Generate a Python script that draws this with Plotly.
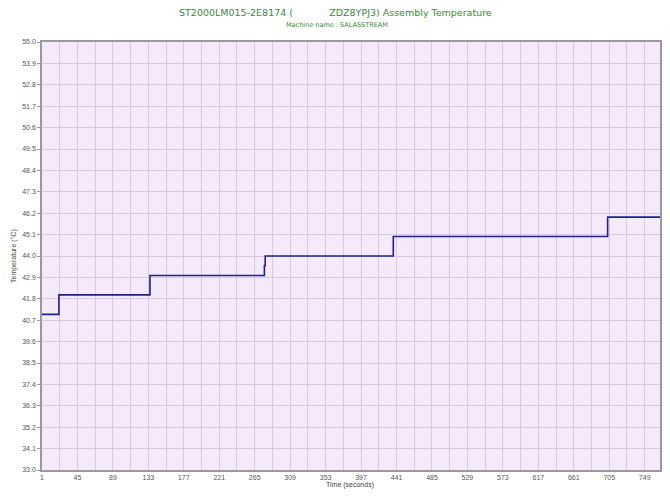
import plotly.graph_objects as go

# Step data: time (seconds) and assembly temperature (°C)
time_s = [1, 22, 135, 277, 278, 437, 703, 768]
temp_c = [41.0, 42.0, 43.0, 43.5, 44.0, 45.0, 46.0, 46.0]

y_ticks = [round(33.0 + 1.1 * i, 1) for i in range(21)]
x_ticks = [1 + 44 * i for i in range(18)]

title_main = "ST2000LM015-2E8174 (            ZDZ8YPJ3) Assembly Temperature"
title_sub = "Machine name : SALASSTREAM"

OFF = 8  # default page body margin
W, H = 670 - OFF, 502 - OFF
L, R, T, B = 42 - OFF, 10, 42 - OFF, 32

fig = go.Figure()
fig.add_trace(go.Scatter(
    x=time_s, y=temp_c, mode="lines", line_shape="hv",
    line=dict(color="#1f1f8f", width=1.6), showlegend=False,
))

title_font = "DejaVu Sans"
tick_font = "Liberation Sans"
fig.update_layout(
    width=W, height=H,
    margin=dict(l=L, r=R, t=T, b=B, autoexpand=False),
    paper_bgcolor="white", plot_bgcolor="#f5eafc",
    font=dict(family=tick_font, size=7, color="#555555"),
)

plot_h = H - T - B
plot_w = W - L - R
def py(pix):
    return (H - B - (pix - OFF)) / plot_h
def px(pix):
    return (pix - OFF - L) / plot_w

fig.add_annotation(text=title_main, x=px(335), xref="paper", y=py(13), yref="paper",
                   showarrow=False, font=dict(family=title_font, size=9.5, color="#3a8a3a"),
                   xanchor="center", yanchor="middle")
fig.add_annotation(text=title_sub, x=px(337), xref="paper", y=py(25), yref="paper",
                   showarrow=False, font=dict(family=title_font, size=6.5, color="#3a8a3a"),
                   xanchor="center", yanchor="middle")
fig.add_annotation(text="Time (seconds)", x=px(350), xref="paper", y=py(485), yref="paper",
                   showarrow=False, font=dict(family=tick_font, size=7, color="#444444"),
                   xanchor="center", yanchor="middle")
fig.add_annotation(text="Temperature (°C)", x=px(14), xref="paper", y=py(256), yref="paper",
                   showarrow=False, textangle=-90,
                   font=dict(family=tick_font, size=7, color="#444444"),
                   xanchor="center", yanchor="middle")

fig.update_xaxes(
    range=[1, 768], tickmode="array", tickvals=x_ticks, ticktext=[str(v) for v in x_ticks],
    showgrid=True, gridcolor="#d8c9de", gridwidth=1,
    minor=dict(dtick=22, tick0=1, showgrid=True, gridcolor="#d8c9de", gridwidth=1),
    showline=True, linecolor="#9a9a9a", linewidth=1.5, mirror=True,
    ticks="", zeroline=False, automargin=False,
)
fig.update_yaxes(
    range=[33.0, 55.0], tickmode="array", tickvals=y_ticks,
    ticktext=[f"{v:.1f}" for v in y_ticks],
    showgrid=True, gridcolor="#d8c9de", gridwidth=1,
    showline=True, linecolor="#9a9a9a", linewidth=1.5, mirror=True,
    ticks="outside", ticklen=3, tickcolor="#9a9a9a", zeroline=False, automargin=False,
)

fig.write_html("out.html")
